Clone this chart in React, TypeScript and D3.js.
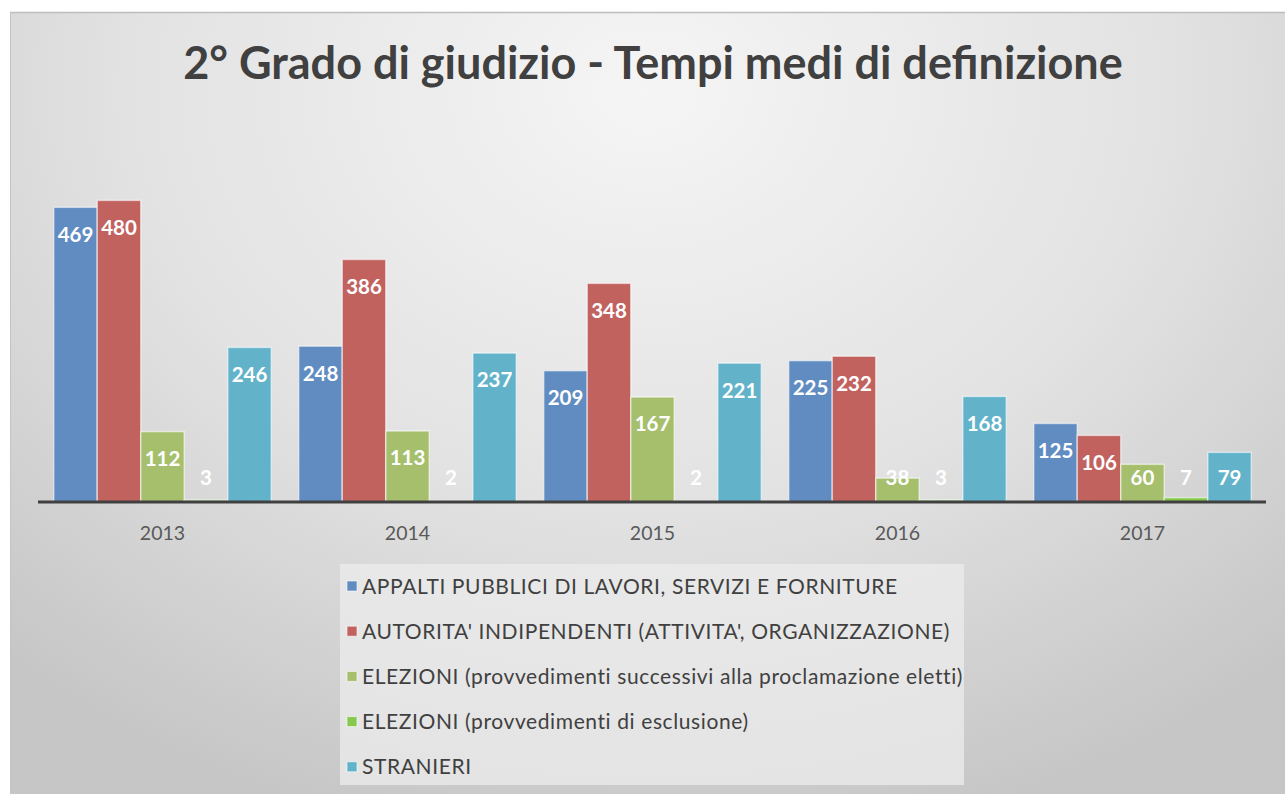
import React from 'react';
import * as d3 from 'd3';

const years = ['2013', '2014', '2015', '2016', '2017'];
const seriesNames = [
  'APPALTI PUBBLICI DI LAVORI, SERVIZI E FORNITURE',
  "AUTORITA' INDIPENDENTI (ATTIVITA', ORGANIZZAZIONE)",
  'ELEZIONI (provvedimenti successivi alla proclamazione eletti)',
  'ELEZIONI (provvedimenti di esclusione)',
  'STRANIERI',
];
const appalti = [469, 248, 209, 225, 125];
const autorita = [480, 386, 348, 232, 106];
const elezioniSucc = [112, 113, 167, 38, 60];
const elezioniEscl = [3, 2, 2, 3, 7];
const stranieri = [246, 237, 221, 168, 79];
const colors = ['#608cc2', '#c2625f', '#a6bf6c', '#86c94c', '#62b3ca'];

const W = 1285;
const H = 794;
const FONT = 'Lato, "Open Sans", sans-serif';

const App: React.FC = () => {
  const values = [appalti, autorita, elezioniSucc, elezioniEscl, stranieri];
  const base = 502;

  const x0 = d3.scaleBand().domain(years).range([40, 1265]).paddingInner(0.112).paddingOuter(0.056);
  const x1 = d3.scaleBand().domain(seriesNames).range([0, x0.bandwidth()]);
  const y = d3.scaleLinear().domain([0, 600]).range([base, base - 377]);

  return (
    <div style={{ position: 'absolute', left: 0, top: 0 }}>
      <svg width={W} height={H} style={{ display: 'block' }}>
        <defs>
          <radialGradient id="bg" cx="0.5" cy="0.1" r="0.75" gradientTransform="translate(0.5,0.1) scale(1,1.3) translate(-0.5,-0.1)">
            <stop offset="0" stopColor="#f5f5f5" />
            <stop offset="0.55" stopColor="#e2e2e2" />
            <stop offset="1" stopColor="#c6c6c6" />
          </radialGradient>
        </defs>
        <rect x={0} y={0} width={W} height={H} fill="#ffffff" />
        <rect x={10} y={12} width={W - 10} height={H - 12} fill="url(#bg)" />
        <line x1={10} x2={W} y1={12.5} y2={12.5} stroke="#bdbdbd" strokeWidth={1.5} />
        <line x1={10.5} x2={10.5} y1={12} y2={H} stroke="#c4c4c4" strokeWidth={1} />

        <text x={653} y={79} textAnchor="middle" fontFamily={FONT} fontWeight={700} fontSize={45} fill="#404040">
          2° Grado di giudizio - Tempi medi di definizione
        </text>

        {years.map((yr, i) => (
          <g key={yr} transform={`translate(${x0(yr)},0)`}>
            {seriesNames.map((s, j) => {
              const v = values[j][i];
              const top = y(v);
              const lx = x1(s)! + x1.bandwidth() / 2;
              const ly = Math.min(top + 27, base - 24);
              return (
                <g key={s}>
                  <rect
                    x={x1(s)!}
                    y={top}
                    width={x1.bandwidth()}
                    height={base - top}
                    fill={colors[j]}
                    stroke="rgba(255,255,255,0.55)"
                    strokeWidth={1.5}
                  />
                  <text x={lx} y={ly} dy="0.36em" textAnchor="middle" fontFamily={FONT} fontWeight={700} fontSize={20.5} fill="#ffffff">
                    {v}
                  </text>
                </g>
              );
            })}
            <text x={x0.bandwidth() / 2} y={533} dy="0.36em" textAnchor="middle" fontFamily={FONT} fontSize={19.5} fill="#595959">
              {yr}
            </text>
          </g>
        ))}

        <line x1={38} x2={1266} y1={base} y2={base} stroke="#404040" strokeWidth={3} />

        <rect x={340} y={564} width={624} height={221} fill="#ececec" opacity={0.75} />
        {seriesNames.map((s, j) => {
          const cy = 586 + j * 45.2;
          return (
            <g key={s}>
              <rect x={347} y={cy - 5} width={10} height={10} fill={colors[j]} stroke="rgba(255,255,255,0.6)" />
              <text x={362} y={cy} dy="0.36em" fontFamily={FONT} fontSize={21} letterSpacing={0.6} fill="#404040">
                {s}
              </text>
            </g>
          );
        })}
      </svg>
    </div>
  );
};

export default App;
